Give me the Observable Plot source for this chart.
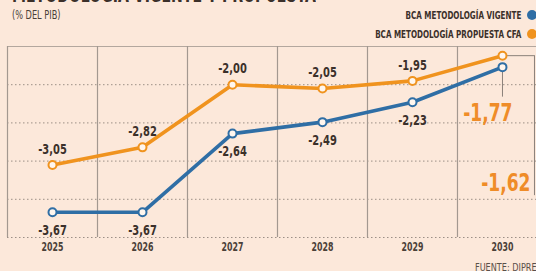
<!DOCTYPE html>
<html><head><meta charset="utf-8">
<script src="https://cdn.jsdelivr.net/npm/d3@7"></script>
<script src="https://cdn.jsdelivr.net/npm/@observablehq/plot@0.6"></script>
<style>
body{margin:0;background:#fce8da;}
#wrap{position:relative;width:536px;height:271px;overflow:hidden;background:#fce8da;font-family:"DejaVu Sans Condensed","DejaVu Sans",sans-serif;}
#head{position:relative;height:40px;}
.title{position:absolute;left:12px;top:-19px;font-size:23px;font-weight:bold;color:#3b302a;white-space:nowrap;transform:scaleX(0.68);transform-origin:left center;}
.sub{position:absolute;left:12px;top:8px;font-size:12px;color:#4a4038;white-space:nowrap;transform:scaleX(0.76);transform-origin:left center;}
.leg{position:absolute;right:15px;font-size:10.5px;font-weight:bold;color:#3b302a;white-space:nowrap;line-height:12px;transform:scaleX(0.76);transform-origin:right center;}
.dot{position:absolute;left:527px;width:10px;height:10px;border-radius:50%;}
#foot{position:absolute;left:475px;top:261px;font-size:10.5px;color:#5a5048;white-space:nowrap;transform:scaleX(0.86);transform-origin:left center;}
#chart svg{display:block;}
</style></head>
<body>
<div id="wrap">
  <div id="head">
    <div class="title">METODOLOGÍA VIGENTE Y PROPUESTA</div>
    <div class="sub">(% DEL PIB)</div>
    <div class="leg" style="top:9px">BCA METODOLOGÍA VIGENTE</div>
    <div class="dot" style="top:10px;background:#2f6ea5"></div>
    <div class="leg" style="top:28px">BCA METODOLOGÍA PROPUESTA CFA</div>
    <div class="dot" style="top:29px;background:#f0931e"></div>
  </div>
  <div id="chart"></div>
  <div id="foot">FUENTE: DIPRES</div>
</div>
<script>
const years = [2025, 2026, 2027, 2028, 2029, 2030];
const vigente = [-3.67, -3.67, -2.64, -2.49, -2.23, -1.77];
const propuesta = [-3.05, -2.82, -2.00, -2.05, -1.95, -1.62];
const gridY = [-4, -3.5, -3, -2.5, -2];
const topY = [-1.5];
const separators = [2024.5, 2025.5, 2026.5, 2027.5, 2028.5, 2029.5];

const BLUE = "#2f6ea5", ORANGE = "#f0931e", INK = "#3b302a", BIG = "#ef8c28";
const fmt = v => v.toFixed(2).replace(".", ",");

const vData = years.map((y, i) => ({year: y, value: vigente[i]}));
const pData = years.map((y, i) => ({year: y, value: propuesta[i]}));
const vLast = vData.slice(-1), pLast = pData.slice(-1);
const vRest = vData.slice(0, -1), pRest = pData.slice(0, -1);

const font = "'DejaVu Sans Condensed','DejaVu Sans',sans-serif";

const chart = Plot.plot({
  width: 536,
  height: 231,
  marginTop: 6,
  marginBottom: 34,
  marginLeft: 7,
  marginRight: 0,
  x: {domain: [2024.5, 2030.378], axis: null},
  y: {domain: [-4, -1.5], axis: null},
  style: {background: "transparent", fontFamily: font, overflow: "visible"},
  marks: [
    Plot.ruleY(gridY, {stroke: "#9c8f86", strokeDasharray: "1.5,2.5", strokeWidth: 1}),
    Plot.ruleY(topY, {stroke: "#b3a79e", strokeWidth: 1.2}),
    Plot.ruleX(separators, {stroke: "#a39890", strokeWidth: 1.2}),
    Plot.ruleX(vLast, {x: "year", y1: "value", y2: "value", insetBottom: -30, stroke: "#8a807a", strokeWidth: 1}),
    Plot.ruleY(pLast, {y: "value", x1: "year", x2: "year", insetRight: -32, stroke: "#8a807a", strokeWidth: 1}),
    Plot.ruleX(pLast, {x: "year", y1: "value", y2: "value", dx: 32, insetBottom: -140, stroke: "#8a807a", strokeWidth: 1}),
    Plot.line(vData, {x: "year", y: "value", stroke: BLUE, strokeWidth: 3.6}),
    Plot.line(pData, {x: "year", y: "value", stroke: ORANGE, strokeWidth: 3.6}),
    Plot.dot(vData, {x: "year", y: "value", r: 4, fill: "#fff6ee", stroke: BLUE, strokeWidth: 2}),
    Plot.dot(pData, {x: "year", y: "value", r: 4, fill: "#fff6ee", stroke: ORANGE, strokeWidth: 2}),
    Plot.text(pRest, {x: "year", y: "value", text: d => fmt(d.value), dy: -16, fontSize: 14.5, fontWeight: "bold", fill: INK}),
    Plot.text(vRest, {x: "year", y: "value", text: d => fmt(d.value), dy: 18, fontSize: 14.5, fontWeight: "bold", fill: INK}),
    Plot.text(vLast, {x: "year", y: "value", text: d => fmt(d.value), dx: 10, dy: 46, textAnchor: "end", fontSize: 25, fontWeight: "bold", fill: BIG}),
    Plot.text(pLast, {x: "year", y: "value", text: d => fmt(d.value), dx: 28, dy: 127, textAnchor: "end", fontSize: 25, fontWeight: "bold", fill: BIG}),
    Plot.text(years, {x: d => d, text: d => String(d), frameAnchor: "bottom", dy: 13, fontSize: 11.5, fontWeight: "bold", fill: "#4a4038"})
  ]
});
document.getElementById("chart").appendChild(chart);
// condense glyphs horizontally, like the reference's narrow typeface
chart.querySelectorAll("text").forEach(t => {
  const w = t.getComputedTextLength();
  if (w > 0) {
    t.setAttribute("textLength", (w * 0.76).toFixed(2));
    t.setAttribute("lengthAdjust", "spacingAndGlyphs");
  }
});
</script>
</body></html>
